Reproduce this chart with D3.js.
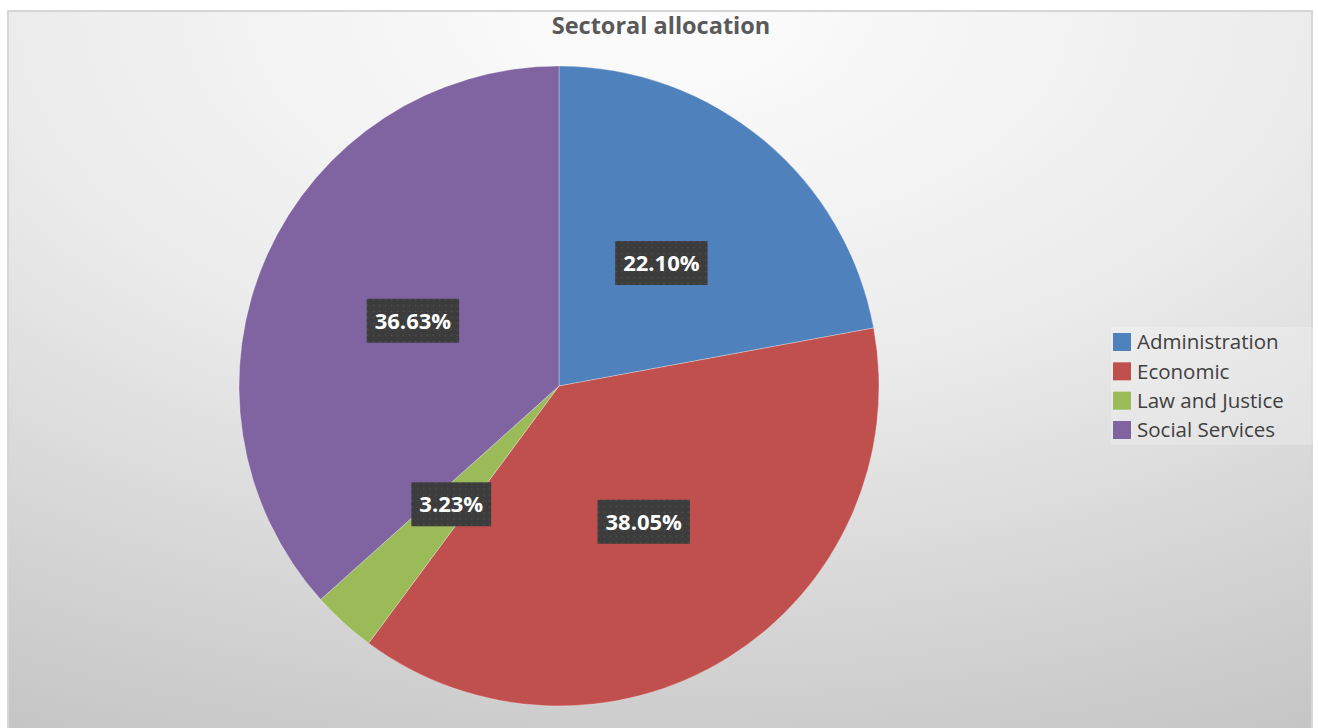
<!DOCTYPE html>
<html><head><meta charset="utf-8">
<script src="https://cdn.jsdelivr.net/npm/d3@7"></script>
<style>html,body{margin:0;padding:0;background:#fff;}svg{display:block;}</style>
</head><body>
<svg id="c" width="1318" height="728"></svg>
<script>
const categories = ["Administration", "Economic", "Law and Justice", "Social Services"];
const values = [22.10, 38.05, 3.23, 36.63];
const colors = ["#4f81bd", "#c0504d", "#9bbb59", "#8064a2"];
const title = "Sectoral allocation";

const svg = d3.select("#c");
const defs = svg.append("defs");
const grad = defs.append("radialGradient").attr("id", "bg")
  .attr("gradientUnits", "objectBoundingBox")
  .attr("cx", 0.5).attr("cy", 0).attr("r", 1.1)
  .attr("fx", 0.5).attr("fy", 0);
grad.append("stop").attr("offset", "0%").attr("stop-color", "#fdfdfd");
grad.append("stop").attr("offset", "45%").attr("stop-color", "#ececec");
grad.append("stop").attr("offset", "100%").attr("stop-color", "#c5c5c5");

const pat = defs.append("pattern").attr("id", "dots").attr("patternUnits", "userSpaceOnUse")
  .attr("width", 6).attr("height", 6);
pat.append("rect").attr("width", 6).attr("height", 6).attr("fill", "#3c3c3c");
pat.append("rect").attr("x", 2).attr("y", 2).attr("width", 1.2).attr("height", 1.2).attr("fill", "#555555");

svg.append("rect").attr("x", 8).attr("y", 11).attr("width", 1304).attr("height", 730)
  .attr("fill", "url(#bg)").attr("stroke", "#d6d6d6").attr("stroke-width", 2);

svg.append("text").attr("x", 661).attr("y", 34).attr("text-anchor", "middle")
  .attr("font-family", "Open Sans, sans-serif").attr("font-weight", "bold")
  .attr("font-size", 23.5).attr("fill", "#595959").text(title);

const cx = 559, cy = 386, R = 320;
const pie = d3.pie().sort(null).value(d => d.v);
const data = pie(categories.map((c, i) => ({c, v: values[i], col: colors[i]})));
const arc = d3.arc().innerRadius(0).outerRadius(R);
const labelArc = d3.arc().innerRadius(R * 0.5).outerRadius(R * 0.5);

const g = svg.append("g").attr("transform", `translate(${cx},${cy})`);
g.selectAll("path").data(data).join("path")
  .attr("d", arc).attr("fill", d => d.data.col)
  .attr("stroke", "#ffffff").attr("stroke-width", 0.6).attr("stroke-opacity", 0.5);

const lab = g.selectAll("g.lab").data(data).join("g").attr("class", "lab")
  .attr("transform", d => `translate(${labelArc.centroid(d)})`);
lab.each(function(d) {
  const s = d3.select(this);
  const t = s.append("text").attr("text-anchor", "middle").attr("dy", "0.36em")
    .attr("font-family", "Open Sans, sans-serif").attr("font-weight", "bold")
    .attr("font-size", 22).attr("fill", "#ffffff").text(d.data.v.toFixed(2) + "%");
  const w = t.node().getComputedTextLength();
  s.insert("rect", "text").attr("x", -w / 2 - 8).attr("y", -22).attr("width", w + 16).attr("height", 44)
    .attr("fill", "url(#dots)");
});

const lg = svg.append("g");
lg.append("rect").attr("x", 1111).attr("y", 327).attr("width", 205).attr("height", 118)
  .attr("fill", "#ffffff").attr("fill-opacity", 0.22);
const ly = d3.scalePoint().domain(categories).range([342, 430]);
const items = lg.selectAll("g.it").data(categories).join("g").attr("class", "it")
  .attr("transform", d => `translate(1113,${ly(d)})`);
items.append("rect").attr("x", 0).attr("y", -9).attr("width", 18).attr("height", 18)
  .attr("fill", (d, i) => colors[i]);
items.append("text").attr("x", 24).attr("dy", "0.35em")
  .attr("font-family", "Open Sans, sans-serif").attr("font-size", 20.5).attr("fill", "#404040")
  .text(d => d);
</script>
</body></html>
